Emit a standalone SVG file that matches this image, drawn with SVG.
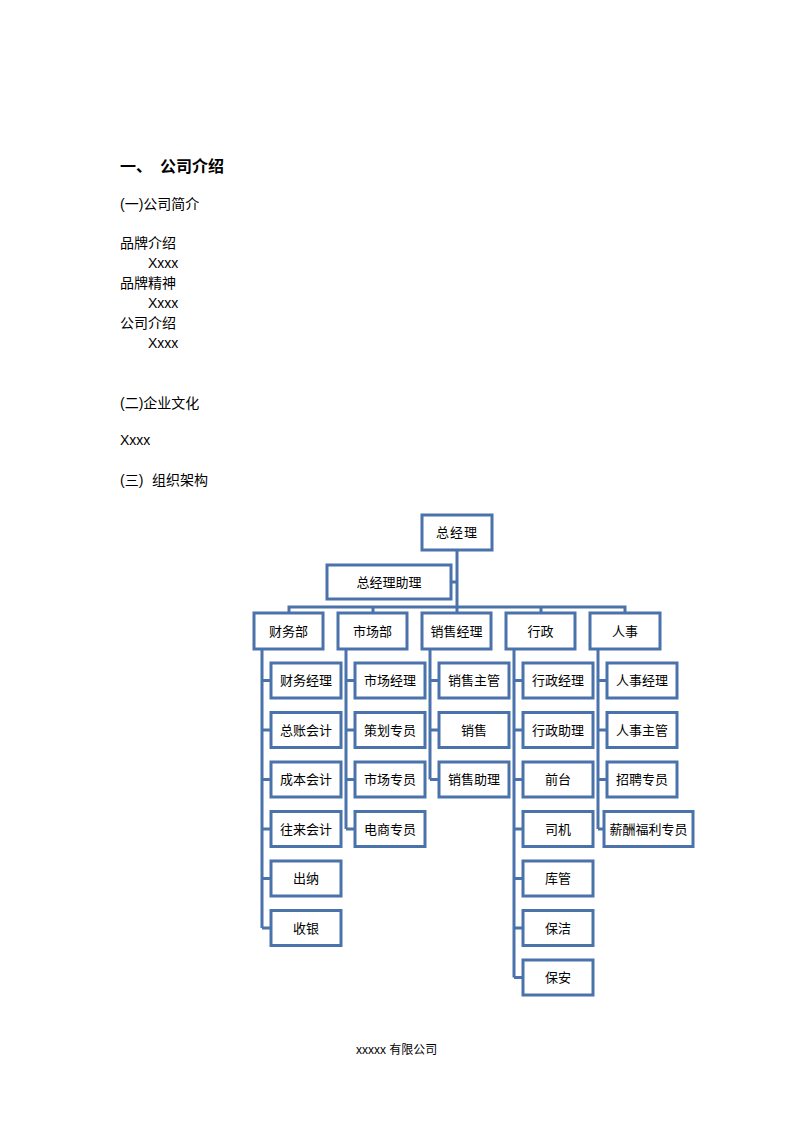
<svg xmlns="http://www.w3.org/2000/svg" width="794" height="1123" viewBox="0 0 794 1123">
<style>
.t{font-family:"Liberation Sans","Noto Sans CJK SC",sans-serif;fill:#000}
.h{font-size:16px;font-weight:bold}
.p{font-size:14px}
.box rect{fill:#fff;stroke:#4A73AC;stroke-width:3}
.box text{font-family:"Noto Sans CJK SC",sans-serif;font-size:13px;text-anchor:middle;fill:#000}
.ln{fill:none;stroke:#4A73AC;stroke-width:3}
</style>
<rect width="794" height="1123" fill="#fff"/>
<g id="text">
<text class="t h" x="120" y="172">一、</text>
<text class="t h" x="160" y="172">公司介绍</text>
<text class="t p" x="120" y="209">(一)公司简介</text>
<text class="t p" x="120" y="248">品牌介绍</text>
<text class="t p" x="148" y="268">Xxxx</text>
<text class="t p" x="120" y="288">品牌精神</text>
<text class="t p" x="148" y="308">Xxxx</text>
<text class="t p" x="120" y="328">公司介绍</text>
<text class="t p" x="148" y="348">Xxxx</text>
<text class="t p" x="120" y="408">(二)企业文化</text>
<text class="t p" x="120" y="445">Xxxx</text>
<text class="t p" x="120" y="485">(三)</text>
<text class="t p" x="152" y="485">组织架构</text>
<text class="t" font-size="12" x="356" y="1054">xxxxx 有限公司</text>
</g>
<g id="connectors" class="ln">
<path d="M457 550V613"/>
<path d="M451 582H457"/>
<path d="M289 613V607H625V613"/>
<path d="M373 607V613"/>
<path d="M541 607V613"/>
<path d="M262 649V928"/>
<path d="M262 680.5H271M262 730H271M262 779.5H271M262 829H271M262 878.5H271M262 928H271"/>
<path d="M346 649V829"/>
<path d="M346 680.5H355M346 730H355M346 779.5H355M346 829H355"/>
<path d="M430 649V779.5"/>
<path d="M430 680.5H439M430 730H439M430 779.5H439"/>
<path d="M514 649V977.5"/>
<path d="M514 680.5H523M514 730H523M514 779.5H523M514 829H523M514 878.5H523M514 928H523M514 977.5H523"/>
<path d="M598 649V829"/>
<path d="M598 680.5H607M598 730H607M598 779.5H607M598 829H604"/>
</g>
<g id="n-zjl" class="box"><rect x="422" y="515" width="70" height="35"/><text x="457" y="537" letter-spacing="1">总经理</text></g>
<g id="n-zjlzl" class="box"><rect x="327" y="565" width="124" height="34"/><text x="389" y="587">总经理助理</text></g>
<g id="n-cwb" class="box"><rect x="254" y="613" width="69" height="36"/><text x="288.5" y="636">财务部</text></g>
<g id="n-scb" class="box"><rect x="338" y="613" width="69" height="36"/><text x="372.5" y="636">市场部</text></g>
<g id="n-xsjl" class="box"><rect x="422" y="613" width="69" height="36"/><text x="456.5" y="636">销售经理</text></g>
<g id="n-xz" class="box"><rect x="506" y="613" width="69" height="36"/><text x="540.5" y="636">行政</text></g>
<g id="n-rs" class="box"><rect x="590" y="613" width="70" height="36"/><text x="625" y="636">人事</text></g>

<g id="n-cwjl" class="box"><rect x="271" y="663" width="70" height="35"/><text x="306" y="685">财务经理</text></g>
<g id="n-zzkj" class="box"><rect x="271" y="712.5" width="70" height="35"/><text x="306" y="734.5">总账会计</text></g>
<g id="n-cbkj" class="box"><rect x="271" y="762" width="70" height="35"/><text x="306" y="784">成本会计</text></g>
<g id="n-wlkj" class="box"><rect x="271" y="811.5" width="70" height="35"/><text x="306" y="833.5">往来会计</text></g>
<g id="n-cn" class="box"><rect x="271" y="861" width="70" height="35"/><text x="306" y="883">出纳</text></g>
<g id="n-sy" class="box"><rect x="271" y="910.5" width="70" height="35"/><text x="306" y="932.5">收银</text></g>

<g id="n-scjl" class="box"><rect x="355" y="663" width="70" height="35"/><text x="390" y="685">市场经理</text></g>
<g id="n-chzy" class="box"><rect x="355" y="712.5" width="70" height="35"/><text x="390" y="734.5">策划专员</text></g>
<g id="n-sczy" class="box"><rect x="355" y="762" width="70" height="35"/><text x="390" y="784">市场专员</text></g>
<g id="n-dszy" class="box"><rect x="355" y="811.5" width="70" height="35"/><text x="390" y="833.5">电商专员</text></g>

<g id="n-xszg" class="box"><rect x="439" y="663" width="70" height="35"/><text x="474" y="685">销售主管</text></g>
<g id="n-xs" class="box"><rect x="439" y="712.5" width="70" height="35"/><text x="474" y="734.5">销售</text></g>
<g id="n-xszl" class="box"><rect x="439" y="762" width="70" height="35"/><text x="474" y="784">销售助理</text></g>

<g id="n-xzjl" class="box"><rect x="523" y="663" width="70" height="35"/><text x="558" y="685">行政经理</text></g>
<g id="n-xzzl" class="box"><rect x="523" y="712.5" width="70" height="35"/><text x="558" y="734.5">行政助理</text></g>
<g id="n-qt" class="box"><rect x="523" y="762" width="70" height="35"/><text x="558" y="784">前台</text></g>
<g id="n-sj" class="box"><rect x="523" y="811.5" width="70" height="35"/><text x="558" y="833.5">司机</text></g>
<g id="n-kg" class="box"><rect x="523" y="861" width="70" height="35"/><text x="558" y="883">库管</text></g>
<g id="n-bj" class="box"><rect x="523" y="910.5" width="70" height="35"/><text x="558" y="932.5">保洁</text></g>
<g id="n-ba" class="box"><rect x="523" y="960" width="70" height="35"/><text x="558" y="982">保安</text></g>

<g id="n-rsjl" class="box"><rect x="607" y="663" width="70" height="35"/><text x="642" y="685">人事经理</text></g>
<g id="n-rszg" class="box"><rect x="607" y="712.5" width="70" height="35"/><text x="642" y="734.5">人事主管</text></g>
<g id="n-zpzy" class="box"><rect x="607" y="762" width="70" height="35"/><text x="642" y="784">招聘专员</text></g>
<g id="n-xcflzy" class="box"><rect x="604" y="811.5" width="89" height="35"/><text x="648.5" y="833.5">薪酬福利专员</text></g>
</svg>
